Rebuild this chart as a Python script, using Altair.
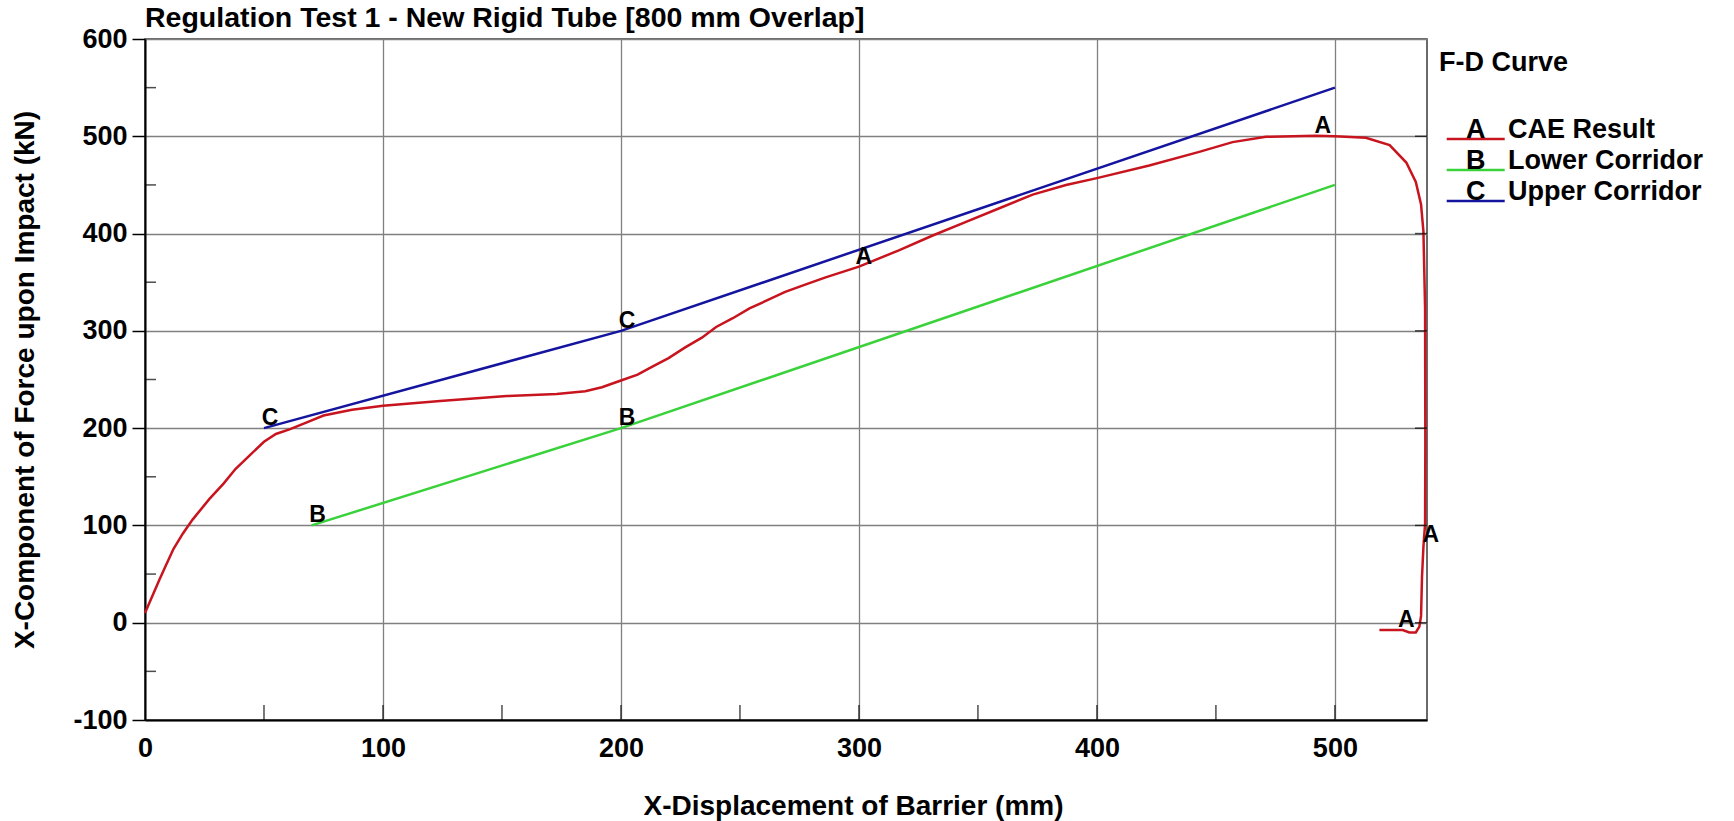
import altair as alt
import pandas as pd

# ---------------- data ----------------
SERIES = ["CAE Result", "Lower Corridor", "Upper Corridor"]
LETTERS = ["A", "B", "C"]
COLORS = ["#C8141E", "#3AD23A", "#14149E"]

CAE_X = [0, 3, 6, 9, 12, 16, 20, 27, 33, 38, 44, 50, 55, 61, 68, 75, 87, 100,
         124, 152, 173, 185, 192, 200, 207, 213, 220, 227, 234, 240, 247, 254,
         262, 269, 278, 286, 300, 317, 331, 345, 359, 373, 387, 400, 422, 443,
         457, 471, 492, 500, 513, 523, 530, 534, 536.2, 537.2, 537.9, 538.0,
         537.9, 537.2, 536.6, 536.2, 535.5, 534, 531.3, 528.5, 518.7]
CAE_Y = [10, 27, 44, 60, 76, 92, 106, 127, 143, 158, 172, 186, 194, 199, 206,
         213, 219, 223, 228, 233, 235, 238, 242, 249, 255, 263, 272, 283, 293,
         304, 313, 323, 332, 340, 348, 355, 366, 383, 398, 412, 426, 440, 450,
         457, 470, 484, 494, 499.5, 500.5, 500, 498.5, 491, 473, 453, 430, 402,
         323, 185, 102, 78, 47, 7, -4, -10, -10, -7.5, -7.5]

LOWER_X = [70, 200, 500]
LOWER_Y = [100, 200, 450]
UPPER_X = [50, 200, 500]
UPPER_Y = [200, 300, 550]

MARK_LETTER = ["A", "A", "A", "A", "B", "B", "C", "C"]
MARK_X = [299.5, 492.4, 537.8, 527.5, 70, 200, 50, 200]
MARK_Y = [366, 500, 80, -8, 100, 200, 200, 300]

X_MAX = 538.7
X_TICKS = [0, 100, 200, 300, 400, 500]
X_MINOR = [50, 100, 150, 200, 250, 300, 350, 400, 450, 500]
Y_TICKS = [-100, 0, 100, 200, 300, 400, 500, 600]
Y_MINOR = [-50, 50, 150, 250, 350, 450, 550]
Y_RIGHT = [0, 100, 200, 300, 400, 500]

TITLE = "Regulation Test 1 - New Rigid Tube [800 mm Overlap]"
X_TITLE = "X-Displacement of Barrier (mm)"
Y_TITLE = "X-Component of Force upon Impact (kN)"
LEGEND_TITLE = "F-D Curve"

# ---------------- tables ----------------
rows = []
for name, xs, ys in [(SERIES[0], CAE_X, CAE_Y),
                     (SERIES[1], LOWER_X, LOWER_Y),
                     (SERIES[2], UPPER_X, UPPER_Y)]:
    for i, (x, y) in enumerate(zip(xs, ys)):
        rows.append({"series": name, "x": x, "y": y, "i": i})
df = pd.DataFrame(rows)
marks_df = pd.DataFrame({"letter": MARK_LETTER, "x": MARK_X, "y": MARK_Y})
xminor_df = pd.DataFrame({"x": X_MINOR})
yminor_df = pd.DataFrame({"y": Y_MINOR})
yright_df = pd.DataFrame({"y": Y_RIGHT})

FONT = "Liberation Sans"
xscale = alt.Scale(domain=[0, X_MAX], nice=False, zero=False)
yscale = alt.Scale(domain=[-100, 600], nice=False, zero=False)

NB = "\u00a0"
label_expr = ("(datum.label == 'CAE Result' ? 'A' : datum.label == 'Lower Corridor' ? 'B' : 'C')"
              " + '" + NB * 3 + "' + datum.label")
# legend sample line: drawn under the series letter, in symbol units (r = 10 px)
LEGEND_LINE = "M -0.58 0.95 L 5.22 0.95"

lines = alt.Chart(df).mark_line(strokeWidth=2.5).encode(
    x=alt.X("x:Q", scale=xscale,
            axis=alt.Axis(values=X_TICKS, title=X_TITLE, grid=True, ticks=False,
                          labelPadding=15, labelFlush=False, labelExpr="'' + datum.value",
                          titleX=708, titleY=72,
                          titleAlign="center", titleBaseline="top")),
    y=alt.Y("y:Q", scale=yscale,
            axis=alt.Axis(values=Y_TICKS, title=Y_TITLE, grid=True, labelFlush=False,
                          labelExpr="'' + datum.value",
                          tickSize=13, labelPadding=5, titlePadding=33)),
    color=alt.Color("series:N", scale=alt.Scale(domain=SERIES, range=COLORS),
                    legend=alt.Legend(
                        title=LEGEND_TITLE, orient="none",
                        legendX=1294, legendY=11,
                        symbolType=LEGEND_LINE, symbolSize=400, symbolStrokeWidth=2.5,
                        labelExpr=label_expr, labelOffset=0, labelLimit=400,
                        labelFont=FONT, labelFontSize=27, labelFontWeight="bold",
                        labelColor="black", labelBaseline="middle",
                        titleFont=FONT, titleFontSize=27, titleFontWeight="bold",
                        titleColor="black", titlePadding=39,
                        rowPadding=2, padding=0)),
    order=alt.Order("i:Q"),
)

letters = alt.Chart(marks_df).mark_text(
    font=FONT, fontSize=23, fontWeight="bold", color="black",
    align="center", baseline="middle", dx=6, dy=-10,
).encode(
    x=alt.X("x:Q", scale=xscale),
    y=alt.Y("y:Q", scale=yscale),
    text="letter:N",
)

xminor = alt.Chart(xminor_df).mark_tick(
    orient="vertical", size=15, thickness=1.5, color="black", yOffset=-7.5
).encode(
    x=alt.X("x:Q", scale=xscale),
    y=alt.YDatum(-100, type="quantitative"),
)

yminor = alt.Chart(yminor_df).mark_tick(
    orient="horizontal", size=11, thickness=1.5, color="black", xOffset=5.5
).encode(
    x=alt.XDatum(0, type="quantitative"),
    y=alt.Y("y:Q", scale=yscale),
)

yright = alt.Chart(yright_df).mark_tick(
    orient="horizontal", size=12, thickness=1.5, color="black", xOffset=-6
).encode(
    x=alt.XDatum(X_MAX, type="quantitative"),
    y=alt.Y("y:Q", scale=yscale),
)

chart = alt.layer(lines, xminor, yminor, yright, letters).properties(
    width=1282,
    height=681,
    autosize=alt.AutoSizeParams(type="none"),
    padding={"left": 145, "top": 39, "right": 307, "bottom": 101},
    title=alt.TitleParams(TITLE, anchor="start", frame="group", font=FONT,
                          fontSize=28.5, fontWeight="bold", color="black",
                          baseline="bottom", offset=-36),
).configure(
    background="white",
).configure_view(
    stroke="#3a3a3a", strokeWidth=1.5,
).configure_axis(
    labelFont=FONT, labelFontSize=27, labelFontWeight="bold", labelColor="black",
    titleFont=FONT, titleFontSize=28, titleFontWeight="bold", titleColor="black",
    gridColor="#808080", gridWidth=1.3, gridOpacity=1,
    domainColor="black", domainWidth=2, tickColor="black", tickWidth=1.5,
)

chart.save("out.html", embed_options={"renderer": "svg", "actions": False})
